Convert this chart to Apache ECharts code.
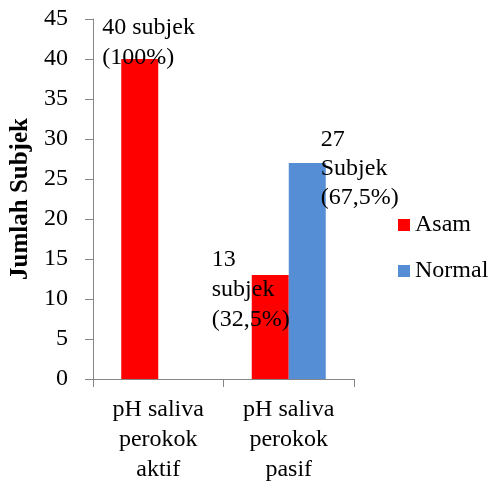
<!DOCTYPE html>
<html>
<head>
<meta charset="utf-8">
<script src="https://cdn.jsdelivr.net/npm/echarts@6/dist/echarts.min.js"></script>
<style>
  html, body { margin: 0; padding: 0; background: #fff; }
  #chart { width: 500px; height: 482px; }
</style>
</head>
<body>
<div id="chart"></div>
<script>
// Subjects by saliva pH, active vs passive smokers
const categories = ['pH saliva\nperokok\naktif', 'pH saliva\nperokok\npasif'];
const seriesNames = ['Asam', 'Normal'];
const asamValues = [40, 13];
const normalValues = [0, 27];
// Text shown after the count in each bar label
const asamLabelTails = [' subjek\n(100%)', '\nsubjek\n(32,5%)'];
const normalLabelTails = ['', '\nSubjek\n(67,5%)'];
const yTicks = { min: 0, max: 45, interval: 5 };

const FONT = '"Liberation Serif", "Times New Roman", serif';
const TXT = 24;

// Label placement relative to the top-left corner of each bar
const asamLabelPos = [[-19, -46], [-40, -30]];
const normalLabelPos = [[0, 0], [32, -38]];

function buildData(values, tails, positions) {
  return values.map((v, i) => ({
    value: v,
    label: {
      show: v > 0,
      position: positions[i],
      formatter: (p) => p.value + tails[i]
    }
  }));
}

const chart = echarts.init(document.getElementById('chart'), null, { renderer: 'canvas' });

chart.setOption({
  animation: false,
  backgroundColor: '#ffffff',
  textStyle: { fontFamily: FONT },
  grid: { left: 93, right: 146, top: 19, bottom: 103, containLabel: false, outerBoundsMode: 'none' },
  legend: {
    orient: 'vertical',
    left: 393,
    top: 208,
    itemWidth: 12,
    itemHeight: 12,
    itemGap: 22,
    icon: 'rect',
    textStyle: { fontFamily: FONT, fontSize: TXT, color: '#000', padding: [0, 0, 0, 0] },
    data: seriesNames
  },
  xAxis: {
    type: 'category',
    data: categories,
    axisLine: { lineStyle: { color: '#868686', width: 1 } },
    axisTick: { show: true, alignWithLabel: false, length: 8, lineStyle: { color: '#868686' } },
    axisLabel: {
      interval: 0,
      margin: 16,
      fontFamily: FONT,
      fontSize: TXT,
      lineHeight: 30,
      color: '#000',
      align: 'center'
    }
  },
  yAxis: {
    type: 'value',
    min: yTicks.min,
    max: yTicks.max,
    interval: yTicks.interval,
    name: 'Jumlah Subjek',
    nameLocation: 'middle',
    nameRotate: 90,
    nameGap: 58,
    nameTextStyle: { fontFamily: FONT, fontSize: 25, fontWeight: 'bold', color: '#000' },
    axisLine: { show: true, lineStyle: { color: '#868686', width: 1 } },
    axisTick: { show: true, length: 8, inside: false, lineStyle: { color: '#868686' } },
    splitLine: { show: false },
    axisLabel: { margin: 25, fontFamily: FONT, fontSize: TXT, color: '#000' }
  },
  series: [
    {
      name: seriesNames[0],
      type: 'bar',
      barWidth: 37,
      barGap: '0%',
      itemStyle: { color: '#ff0000' },
      label: { fontFamily: FONT, fontSize: TXT, lineHeight: 30, color: '#000', align: 'left', verticalAlign: 'top' },
      data: buildData(asamValues, asamLabelTails, asamLabelPos)
    },
    {
      name: seriesNames[1],
      type: 'bar',
      barWidth: 37,
      barGap: '0%',
      itemStyle: { color: '#558ed5' },
      label: { fontFamily: FONT, fontSize: TXT, lineHeight: 29, color: '#000', align: 'left', verticalAlign: 'top' },
      data: buildData(normalValues, normalLabelTails, normalLabelPos)
    }
  ]
});
</script>
</body>
</html>
